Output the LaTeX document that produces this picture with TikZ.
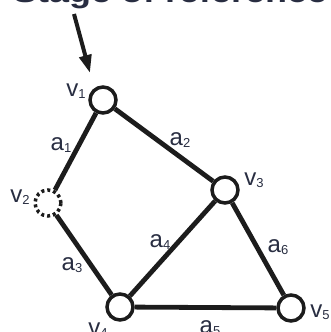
\documentclass[tikz,border=0pt]{standalone}
\usepackage{fontspec}
\setmainfont{Liberation Sans}
\usetikzlibrary{arrows.meta,positioning}
\definecolor{InkBlack}{RGB}{28,28,28}
\definecolor{LabelNavy}{RGB}{40,45,65}
\newcommand{\vlab}[2]{#1\raisebox{-0.12em}{\fontsize{13}{13}\selectfont #2}}

\begin{document}
\begin{tikzpicture}[x=1pt,y=-1pt,>=Latex,
    vert/.style={circle,draw=InkBlack,line width=3.5pt,fill=white,minimum size=26pt,inner sep=0pt},
    ghost/.style={vert,dash pattern=on 3pt off 3pt},
    edge/.style={line width=4.8pt,InkBlack},
    lab/.style={anchor=base,inner sep=0pt,text=LabelNavy,font=\fontsize{24}{24}\selectfont}]
  \useasboundingbox (0,0) rectangle (331,332);
  \clip (0,0) rectangle (331,332);
  \node[anchor=base west,inner sep=0pt,text=LabelNavy,font=\bfseries\fontsize{30}{30}\selectfont] (title) at (13,2) {\scalebox{1.2}[1]{Stage of reference}};

  \node[vert] (v1) at (103,100) {};
  \node[ghost] (v2) at (48,203) {};
  \node[vert] (v3) at (225,190) {};
  \node[vert] (v4) at (120,307) {};
  \node[vert] (v5) at (291,308) {};

  \draw[edge] (v1) -- (v2);
  \draw[edge] (v1) -- (v3);
  \draw[edge] (v2) -- (v4);
  \draw[edge] (v4) -- (v3);
  \draw[edge] (v4) -- (v5);
  \draw[edge] (v3) -- (v5);

  \coordinate (cue) at (74,14);
  \coordinate (cuetip) at (90,73);
  \draw[edge,line width=4pt,-{Triangle[length=18pt,width=12pt]}] (cue) -- (cuetip);

  \node[lab] (lv1) at (76,96) {\vlab{v}{1}};
  \node[lab] (lv2) at (20,202) {\vlab{v}{2}};
  \node[lab] (lv3) at (254,185) {\vlab{v}{3}};
  \node[lab] (lv4) at (98,335) {\vlab{v}{4}};
  \node[lab] (lv5) at (320,317) {\vlab{v}{5}};
  \node[lab] (la1) at (61,150) {\vlab{a}{1}};
  \node[lab] (la2) at (180,145) {\vlab{a}{2}};
  \node[lab] (la3) at (72,270) {\vlab{a}{3}};
  \node[lab] (la4) at (160,247) {\vlab{a}{4}};
  \node[lab] (la5) at (210,333) {\vlab{a}{5}};
  \node[lab] (la6) at (278,252) {\vlab{a}{6}};
\end{tikzpicture}
\end{document}
